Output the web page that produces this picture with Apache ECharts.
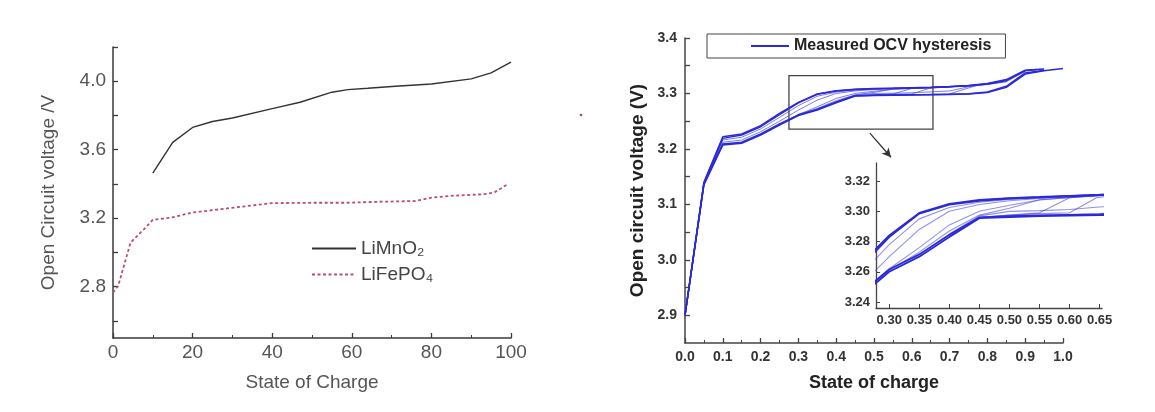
<!DOCTYPE html>
<html><head><meta charset="utf-8">
<script src="https://cdn.jsdelivr.net/npm/echarts@6/dist/echarts.min.js"></script>
<style>html,body{margin:0;padding:0;background:#fff}#c{width:1155px;height:412px}</style>
</head><body><div id="c"></div>
<script>
// ---------- Left chart data ----------
const mnSoc = [10,15,20,25,30,40,47,55,59,64,71,80,90,95,100];
const mnOcv = [3.463,3.643,3.73,3.765,3.785,3.84,3.877,3.936,3.951,3.959,3.971,3.984,4.014,4.049,4.111];
const feSoc = [0,1.3,4.4,7.8,10,14.8,20,30.5,40,49.7,58.4,67,75.8,80.1,84.5,93.2,95.8,99.3];
const feOcv = [2.765,2.804,3.057,3.136,3.19,3.204,3.233,3.262,3.288,3.29,3.29,3.296,3.30,3.32,3.33,3.34,3.35,3.40];
const leftYLabels = [2.8,3.2,3.6,4.0];
const leftYTicks = [2.6,2.8,3.0,3.2,3.4,3.6,3.8,4.0,4.2];

// ---------- Right chart data (SOC, OCV) ----------
const charge1 = [[0,2.9],[0.05,3.14],[0.1,3.222],[0.15,3.227],[0.2,3.242],[0.25,3.264],[0.3,3.284],[0.35,3.299],[0.4,3.305],[0.45,3.3075],[0.5,3.3088],[0.55,3.3095],[0.6,3.3103],[0.65,3.311],[0.7,3.3125],[0.75,3.3145],[0.8,3.318],[0.85,3.325],[0.9,3.342],[0.95,3.344]];
const charge2 = [[0,2.9],[0.05,3.138],[0.1,3.219],[0.15,3.225],[0.2,3.24],[0.25,3.262],[0.3,3.283],[0.35,3.2985],[0.4,3.3045],[0.45,3.307],[0.5,3.3085],[0.55,3.3093],[0.6,3.31],[0.65,3.3108],[0.7,3.312],[0.75,3.314],[0.8,3.317],[0.85,3.323],[0.9,3.341],[0.93,3.343]];
const discharge1 = [[0,2.9],[0.05,3.135],[0.1,3.207],[0.15,3.21],[0.2,3.225],[0.25,3.243],[0.3,3.26],[0.35,3.27],[0.4,3.283],[0.45,3.2955],[0.5,3.2962],[0.55,3.2968],[0.6,3.2972],[0.65,3.2975],[0.7,3.298],[0.75,3.299],[0.8,3.3015],[0.85,3.311],[0.9,3.335],[0.95,3.341],[1.0,3.345]];
const discharge2 = [[0,2.9],[0.05,3.137],[0.1,3.209],[0.15,3.212],[0.2,3.227],[0.25,3.245],[0.3,3.2615],[0.35,3.2715],[0.4,3.2845],[0.45,3.296],[0.5,3.2968],[0.55,3.2973],[0.6,3.2977],[0.65,3.298],[0.7,3.2985],[0.75,3.2995],[0.8,3.3025],[0.85,3.313],[0.9,3.337],[0.95,3.342]];
const partial1 = [[0,2.9],[0.05,3.139],[0.1,3.216],[0.15,3.221],[0.2,3.236],[0.25,3.257],[0.3,3.278],[0.35,3.295],[0.4,3.3025],[0.45,3.306],[0.5,3.3078],[0.55,3.3088],[0.6,3.3098],[0.65,3.3106],[0.7,3.312],[0.75,3.3138],[0.8,3.3165],[0.85,3.322],[0.88,3.335],[0.9,3.3415],[0.94,3.3435]];
const partial2 = [[0,2.9],[0.05,3.136],[0.1,3.212],[0.15,3.216],[0.2,3.231],[0.25,3.25],[0.3,3.27],[0.35,3.288],[0.4,3.3],[0.45,3.3045],[0.5,3.307],[0.55,3.3085],[0.6,3.3095],[0.65,3.3105],[0.7,3.3118],[0.75,3.3135],[0.8,3.316],[0.85,3.321],[0.9,3.34]];
const partial3 = [[0,2.9],[0.05,3.136],[0.1,3.208],[0.15,3.211],[0.2,3.226],[0.25,3.244],[0.3,3.262],[0.35,3.276],[0.4,3.291],[0.45,3.3],[0.5,3.304],[0.55,3.3075],[0.6,3.309],[0.65,3.3105],[0.7,3.312]];
const partial4 = [[0.2,3.226],[0.25,3.244],[0.3,3.261],[0.35,3.273],[0.4,3.287],[0.45,3.2975],[0.5,3.302],[0.55,3.3077],[0.6,3.3092],[0.65,3.3104],[0.7,3.3118]];
const partial5 = [[0.4,3.284],[0.45,3.296],[0.5,3.2975],[0.55,3.299],[0.6,3.309],[0.65,3.3107],[0.7,3.312],[0.75,3.3142]];
const partial6 = [[0.4,3.284],[0.45,3.2958],[0.5,3.2975],[0.55,3.2985],[0.6,3.299],[0.645,3.309],[0.7,3.3122],[0.75,3.314]];
const partial7 = [[0.4,3.285],[0.45,3.297],[0.5,3.3],[0.55,3.3005],[0.6,3.3012],[0.654,3.303],[0.7,3.3045],[0.75,3.312],[0.8,3.317]];
const partial8 = [[0.5,3.2968],[0.6,3.2978],[0.65,3.2985],[0.7,3.2995],[0.78,3.316],[0.85,3.323]];
const boldCurves = [charge1, charge2, discharge1, discharge2];
const thinCurves = [partial1, partial2, partial3, partial4, partial5, partial6, partial7, partial8];

const rightYLabels = [2.9,3.0,3.1,3.2,3.3,3.4];
const rightYTicks = [2.9,2.95,3.0,3.05,3.1,3.15,3.2,3.25,3.3,3.35,3.4];
const insetX = [0.278, 0.654];
const insetY = [3.236, 3.332];
const insetXLabels = [0.30,0.35,0.40,0.45,0.50,0.55,0.60,0.65];
const insetYLabels = [3.24,3.26,3.28,3.30,3.32];
const zoomBoxX = [0.275, 0.656];
const zoomBoxY = [3.2356, 3.332];
const arrowFrom = [0.489, 3.2284];
const arrowTo = [0.545, 3.185];

const FONT = 'Liberation Sans, Arial, sans-serif';
const LG = '#555', DG = '#333';
const HYS = 'Measured OCV hysteresis';

const chart = echarts.init(document.getElementById('c'), null, {renderer:'canvas'});

function leftAxisCommon(){
  return {
    axisLine:{show:true, lineStyle:{color:'#3a3a3a', width:1.5}},
    axisTick:{show:true, inside:true, length:5, lineStyle:{color:'#3a3a3a', width:1.3}},
    splitLine:{show:false},
  };
}

const series = [
  {name:'LiMnO₂', type:'line', xAxisIndex:0, yAxisIndex:0, symbol:'none', silent:true,
   itemStyle:{color:'#333'},
   data: mnSoc.map((s,i)=>[s,mnOcv[i]]), lineStyle:{color:'#333', width:1.4}},
  {name:'LiFePO₄', type:'line', xAxisIndex:0, yAxisIndex:0, symbol:'none', silent:true,
   itemStyle:{color:'#b8506a'},
   data: feSoc.map((s,i)=>[s,feOcv[i]]), lineStyle:{color:'#b8506a', width:1.8, type:[3,2.5]}},
];

const allCurves = boldCurves.map(d=>({d, bold:true})).concat(thinCurves.map(d=>({d, bold:false})));
allCurves.forEach((c, idx) => {
  const ls = c.bold ? {color:'#2a2ad6', width:1.5} : {color:'rgba(70,70,225,0.7)', width:1};
  const main = {name:HYS, type:'line', xAxisIndex:1, yAxisIndex:1, symbol:'none', silent:true,
    itemStyle:{color:'#2a2ad6'}, data:c.d, lineStyle:ls, z: c.bold?3:2};
  if (idx === 0) {
    main.markArea = {silent:true, itemStyle:{color:'rgba(0,0,0,0)', borderColor:'#444', borderWidth:1.3},
      data:[[{coord:[zoomBoxX[0], zoomBoxY[1]]},{coord:[zoomBoxX[1], zoomBoxY[0]]}]]};
    main.markLine = {silent:true, symbol:['none','arrow'], symbolSize:[7,9], label:{show:false},
      lineStyle:{color:'#333', width:1.3, type:'solid'},
      data:[[{coord:arrowFrom},{coord:arrowTo}]]};
  }
  series.push(main);
  series.push({name:'inset', type:'line', xAxisIndex:2, yAxisIndex:2, symbol:'none', silent:true, clip:true,
    data:c.d, lineStyle: c.bold ? {color:'#2a2ad6', width:1.8} : {color:'rgba(70,70,225,0.6)', width:1.1}, z: c.bold?3:2});
});

const option = {
  animation:false,
  backgroundColor:'#fff',
  textStyle:{fontFamily:FONT},
  grid:[
    {left:113, top:47, width:398, height:291},
    {left:685, top:38, width:378, height:305},
    {left:876, top:163, width:226, height:145},
  ],
  legend:[
    {data:['LiMnO₂','LiFePO₄'], orient:'vertical', left:306, top:234, itemWidth:44, itemHeight:14, itemGap:7,
     itemStyle:{opacity:0},
     textStyle:{fontSize:19, color:'#444', fontFamily:FONT}, selectedMode:false},
    {data:[HYS], left:707, top:34, itemWidth:38, itemHeight:14, padding:[4,14,4,43],
     itemStyle:{opacity:0},
     borderColor:'#444', borderWidth:1, selectedMode:false,
     textStyle:{fontSize:16, fontWeight:'bold', color:'#222', fontFamily:FONT}}
  ],
  xAxis:[
    Object.assign(leftAxisCommon(), {gridIndex:0, type:'value', min:0, max:100, interval:20,
      minorTick:{show:true, splitNumber:2, length:3, lineStyle:{color:'#3a3a3a'}},
      axisLabel:{fontSize:19, color:LG, margin:5, fontFamily:FONT},
      name:'State of Charge', nameLocation:'middle', nameGap:35,
      nameTextStyle:{fontSize:19, color:LG, fontFamily:FONT}}),
    {gridIndex:1, type:'value', min:0, max:1, interval:0.1,
      axisLine:{show:true, lineStyle:{color:'#444', width:1.5}},
      axisTick:{show:true, inside:true, length:5, lineStyle:{color:'#444', width:1.3}},
      minorTick:{show:true, splitNumber:2, length:3, lineStyle:{color:'#444'}},
      splitLine:{show:false},
      axisLabel:{fontSize:14, fontWeight:'bold', color:DG, margin:7, formatter:v=>v.toFixed(1), fontFamily:FONT},
      name:'State of charge', nameLocation:'middle', nameGap:31,
      nameTextStyle:{fontSize:18, fontWeight:'bold', color:'#222', fontFamily:FONT}},
    {gridIndex:2, type:'value', min:insetX[0], max:insetX[1],
      axisLine:{show:true, lineStyle:{color:'#444', width:1.3}},
      axisTick:{show:true, inside:true, length:4, customValues:insetXLabels, lineStyle:{color:'#444'}},
      splitLine:{show:false},
      axisLabel:{fontSize:13, fontWeight:'bold', color:DG, margin:6, customValues:insetXLabels, formatter:v=>v.toFixed(2), fontFamily:FONT}}
  ],
  yAxis:[
    Object.assign(leftAxisCommon(), {gridIndex:0, type:'value', min:2.5, max:4.2,
      axisTick:{show:true, inside:true, length:5, customValues:leftYTicks, lineStyle:{color:'#3a3a3a', width:1.3}},
      axisLabel:{fontSize:19, color:LG, margin:7, customValues:leftYLabels, formatter:v=>v.toFixed(1), fontFamily:FONT},
      name:'Open Circuit voltage /V', nameLocation:'middle', nameGap:55,
      nameTextStyle:{fontSize:19, color:LG, fontFamily:FONT}}),
    {gridIndex:1, type:'value', min:2.85, max:3.4,
      axisLine:{show:true, lineStyle:{color:'#444', width:1.5}},
      axisTick:{show:true, inside:true, length:5, customValues:rightYTicks, lineStyle:{color:'#444', width:1.3}},
      splitLine:{show:false},
      axisLabel:{fontSize:14, fontWeight:'bold', color:DG, margin:8, customValues:rightYLabels, formatter:v=>v.toFixed(1), fontFamily:FONT},
      name:'Open circuit voltage (V)', nameLocation:'middle', nameGap:38,
      nameTextStyle:{fontSize:19, fontWeight:'bold', color:'#222', fontFamily:FONT}},
    {gridIndex:2, type:'value', min:insetY[0], max:insetY[1],
      axisLine:{show:true, lineStyle:{color:'#444', width:1.3}},
      axisTick:{show:true, inside:true, length:4, customValues:insetYLabels, lineStyle:{color:'#444'}},
      splitLine:{show:false},
      axisLabel:{fontSize:13, fontWeight:'bold', color:DG, margin:6, customValues:insetYLabels, formatter:v=>v.toFixed(2), fontFamily:FONT}}
  ],
  graphic:[{type:'circle', shape:{cx:581, cy:115, r:1.3}, style:{fill:'#b04a5a'}}],
  series
};
chart.setOption(option);
</script>
</body></html>
